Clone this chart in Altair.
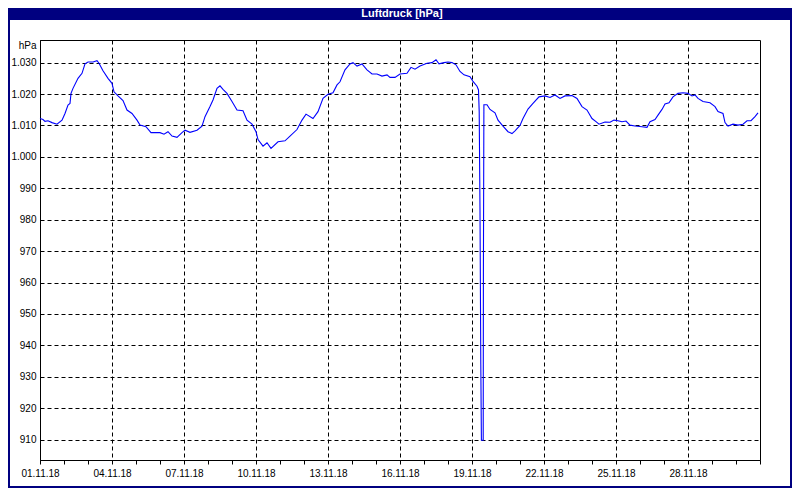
import altair as alt
import pandas as pd

# hours after 01.11.2018 00:00 and air pressure in hPa
hours = [0, 3, 5, 8, 12, 17, 22, 25, 28, 30, 31, 33, 38, 42, 45, 48, 53, 57, 59, 63,
         68, 72, 74, 78, 83, 87, 92, 97, 100, 106, 111, 120, 124, 128, 132, 137, 142, 145, 150, 157,
         162, 165, 170, 173, 177, 180, 183, 187, 192, 197, 203, 207, 212, 216, 218, 223, 227, 231, 238, 245,
         250, 257, 262, 266, 273, 278, 283, 288, 293, 297, 300, 305, 310, 313, 317, 322, 327, 332, 337, 342,
         347, 350, 355, 360, 367, 371, 375, 380, 387, 392, 396, 399, 404, 408, 412, 416, 420, 424, 430, 433,
         437, 438.5, 439.2, 440, 440.8, 441.4, 443.2, 443.4, 443.9, 447, 450, 455, 458, 463, 468, 472, 475, 480, 483, 488,
         493, 499, 505, 510, 515, 520, 525, 532, 537, 542, 547, 552, 556, 559, 565, 570, 574, 578, 582, 586,
         590, 595, 602, 607, 610, 615, 618, 622, 625, 629, 633, 638, 643, 648, 652, 655, 658, 663, 670, 675,
         678, 683, 685, 688, 693, 698, 703, 707, 711, 715, 718]
pressure = [1012.2, 1011.9, 1011.3, 1011.5, 1010.9, 1010.4, 1011.7, 1013.8, 1016.5, 1017.0, 1020.2, 1021.8, 1025.0, 1026.6, 1029.6, 1030.2, 1030.2, 1030.6, 1029.8, 1027.4,
            1025.0, 1023.4, 1020.7, 1019.4, 1017.9, 1014.9, 1013.8, 1011.7, 1010.1, 1009.6, 1007.7, 1007.7, 1007.2, 1008.0, 1006.6, 1006.2, 1007.7, 1008.5, 1007.8, 1008.5,
            1009.8, 1012.8, 1016.0, 1018.1, 1021.8, 1022.6, 1021.5, 1020.2, 1017.6, 1014.9, 1014.7, 1011.7, 1010.4, 1008.0, 1005.5, 1003.4, 1004.5, 1002.7, 1004.8, 1005.1,
            1006.6, 1008.7, 1011.7, 1013.6, 1012.2, 1014.4, 1018.6, 1019.9, 1020.4, 1022.9, 1023.9, 1027.7, 1029.6, 1030.0, 1028.9, 1029.6, 1027.7, 1026.4, 1026.4, 1025.7,
            1026.1, 1025.3, 1025.3, 1026.4, 1026.6, 1028.5, 1027.9, 1028.9, 1029.8, 1030.0, 1030.9, 1029.6, 1030.0, 1030.2, 1030.0, 1029.3, 1027.2, 1026.1, 1025.5, 1024.0,
            1022.5, 1021.3, 1014.4, 983.0, 934.0, 909.8, 909.8, 963.0, 1016.6, 1016.6, 1015.1, 1014.0, 1011.7, 1009.8, 1008.0, 1007.4, 1008.3, 1010.0, 1012.2, 1015.2,
            1017.0, 1019.1, 1019.4, 1018.9, 1019.7, 1018.6, 1019.4, 1019.5, 1018.6, 1016.0, 1014.9, 1012.2, 1011.2, 1010.4, 1011.1, 1011.0, 1011.7, 1011.5, 1011.2, 1011.4,
            1010.1, 1009.8, 1009.6, 1009.4, 1011.2, 1011.9, 1013.3, 1015.1, 1016.8, 1017.2, 1019.1, 1020.2, 1020.4, 1020.2, 1019.4, 1019.7, 1018.6, 1017.6, 1017.2, 1016.0,
            1014.4, 1013.8, 1010.9, 1009.8, 1010.4, 1010.1, 1010.4, 1011.5, 1011.5, 1012.8, 1014.0]

tick_days = [(11, d) for d in range(1, 31)] + [(12, 1)]
y_ticks = [910, 920, 930, 940, 950, 960, 970, 980, 990, 1000, 1010, 1020, 1030]
title_text = "Luftdruck [hPa]"
y_unit = "hPa"

df = pd.DataFrame({
    "time": pd.Timestamp("2018-11-01") + pd.to_timedelta(hours, unit="h"),
    "hPa": pressure,
})

FONT = "Liberation Sans, sans-serif"
NAVY = "#000080"

x_axis = alt.Axis(
    values=[alt.DateTime(year=2018, month=m, date=d) for m, d in tick_days],
    labelExpr="date(datum.value) % 3 == 1 && month(datum.value) == 10 ? timeFormat(datum.value, '%d.%m.%y') : ''",
    title=None,
    grid=True,
    gridColor="black",
    gridDash=[4, 3],
    gridWidth=1,
    gridOpacity={"condition": {"test": "date(datum.value) % 3 == 1 && month(datum.value) == 10", "value": 1}, "value": 0},
    ticks=True,
    tickSize=4,
    tickColor="black",
    domainColor="black",
    labelFont=FONT,
    labelFontSize=10,
    labelColor="black",
    labelPadding=4,
    labelOverlap=False,
    labelFlush=False,
)

y_axis = alt.Axis(
    values=y_ticks,
    labelExpr="replace(format(datum.value, ','), ',', '.')",
    title=y_unit,
    titleAngle=0,
    titleAlign="right",
    titleBaseline="middle",
    titleX=-4,
    titleY=5,
    titleFont=FONT,
    titleFontSize=10,
    titleFontWeight="normal",
    titleColor="black",
    grid=True,
    gridColor="black",
    gridDash=[4, 3],
    gridWidth=1,
    ticks=False,
    domainColor="black",
    labelFont=FONT,
    labelFontSize=10,
    labelColor="black",
    labelPadding=4,
)

line = alt.Chart(df).mark_line(color="#0000ff", strokeWidth=1.1).encode(
    x=alt.X("time:T", axis=x_axis,
            scale=alt.Scale(domain=[alt.DateTime(year=2018, month=11, date=1),
                                    alt.DateTime(year=2018, month=12, date=1)], nice=False)),
    y=alt.Y("hPa:Q", axis=y_axis, scale=alt.Scale(domain=[903.5, 1037.2], nice=False, zero=False)),
)

one = pd.DataFrame({"t": [title_text]})

title_bar = alt.Chart(one).mark_rect(color=NAVY).encode(
    x=alt.value(-32), x2=alt.value(752), y=alt.value(-32), y2=alt.value(-20)
)
frame = alt.Chart(one).mark_rect(fill=None, filled=False, stroke=NAVY, strokeWidth=2).encode(
    x=alt.value(-31), x2=alt.value(751), y=alt.value(-31), y2=alt.value(447)
)
title = alt.Chart(one).mark_text(
    color="white", font="Liberation Sans, sans-serif", fontSize=11, fontWeight="bold",
    align="center", baseline="middle"
).encode(text="t:N", x=alt.value(362), y=alt.value(-26))

chart = alt.layer(line, title_bar, frame, title).properties(
    width=720,
    height=420,
    padding={"left": 32, "top": 32, "right": 32, "bottom": 28},
    autosize=alt.AutoSizeParams(type="none"),
    background="white",
).configure_view(stroke="black", strokeWidth=1)

chart.save("out.html", embed_options={"renderer": "svg", "actions": False})
